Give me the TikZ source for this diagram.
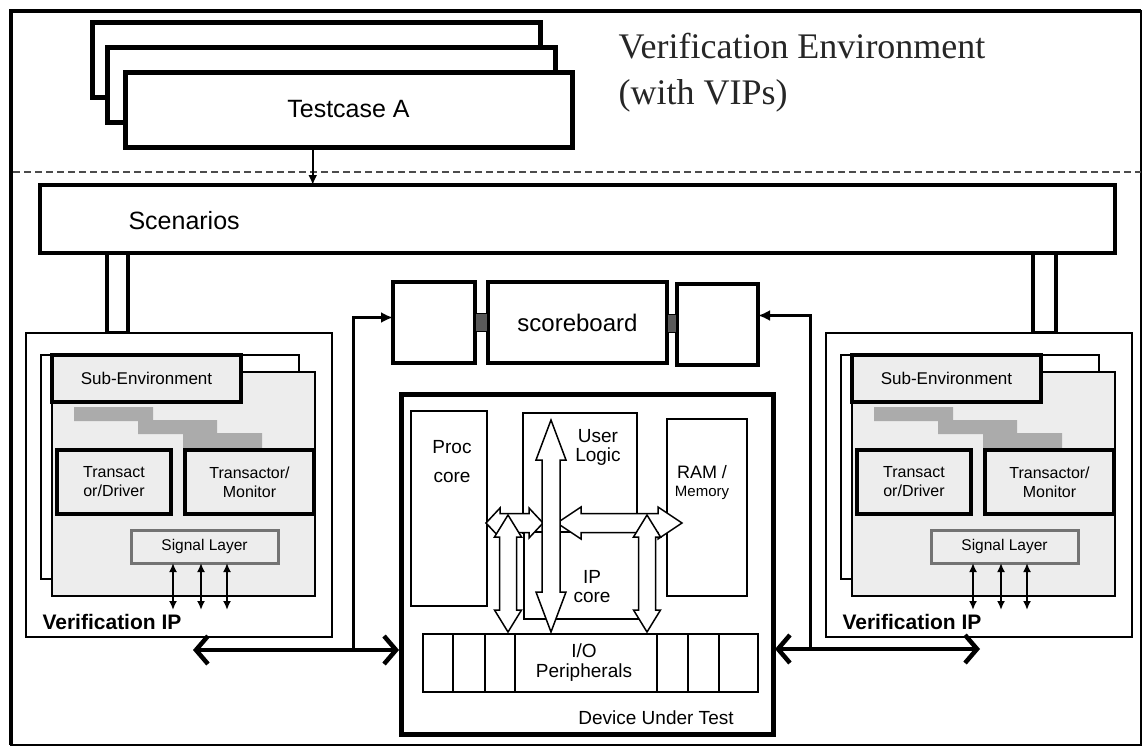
\documentclass[tikz,border=0pt]{standalone}
\usepackage{fontspec}
\setmainfont{Liberation Sans}
\newfontfamily\titlefont{Liberation Serif}
\usetikzlibrary{arrows.meta,calc}

% hollow block arrows: x1, x2, y, shaft half, head half, head length
\newcommand{\harrow}[6]{%
  \draw[hollow] (#1,#3) -- (#1+#6,#3-#5) -- (#1+#6,#3-#4) -- (#2-#6,#3-#4)
    -- (#2-#6,#3-#5) -- (#2,#3) -- (#2-#6,#3+#5) -- (#2-#6,#3+#4)
    -- (#1+#6,#3+#4) -- (#1+#6,#3+#5) -- cycle;}
% x, y1, y2, shaft half, head half, head length
\newcommand{\varrow}[6]{%
  \draw[hollow] (#1,#2) -- (#1+#5,#2+#6) -- (#1+#4,#2+#6) -- (#1+#4,#3-#6)
    -- (#1+#5,#3-#6) -- (#1,#3) -- (#1-#5,#3-#6) -- (#1-#4,#3-#6)
    -- (#1-#4,#2+#6) -- (#1-#5,#2+#6) -- cycle;}

\begin{document}
\begin{tikzpicture}[x=1pt,y=-1pt,
  box/.style={draw, fill=white, inner sep=0pt, outer sep=0pt},
  sz/.style 2 args={minimum width=#1, minimum height=#2},
  thickbox/.style={box, line width=4.5pt},
  thinbox/.style={box, line width=1.5pt},
  hollow/.style={draw, fill=white, line width=1.5pt, line join=miter},
  bus/.style={line width=4.5pt, shorten >=2pt,
    {Straight Barb[length=12pt,width=28pt]}-{Straight Barb[length=12pt,width=28pt]}},
  link/.style={line width=3pt, -{Latex[length=12pt,width=11pt]}},
  sigarr/.style={line width=2pt, {Latex[length=9pt,width=8pt]}-{Latex[length=9pt,width=8pt]}},
]
  \useasboundingbox (0,0) rectangle (1143,747);
  \draw[line width=2pt] (11,11) rectangle (1141,745);
  \draw[line width=4pt] (11,745) -- (11,11) -- (1141,11);
  \draw[dash pattern=on 7pt off 4pt, line width=1.2pt, black!70] (13,172) -- (1141,172);

  % testcases
  \node[box, line width=5pt, sz={448}{75}] (tc3) at (316,60) {};
  \node[box, line width=5pt, sz={448}{75}] (tc2) at (331,85) {};
  \node[box, line width=5pt, sz={447}{75}, font=\fontsize{25}{25}\selectfont] (tcA) at (348.5,109.5) {Testcase A};
  \node[anchor=west, align=left, black!85, font=\titlefont\fontsize{36}{46}\selectfont] (title) at (615,73)
    {Verification Environment\\(with VIPs)};

  % scenarios
  \node[box, line width=4pt, sz={21}{80}] (pipeL) at (117.5,293) {};
  \node[box, line width=4pt, sz={23}{80}] (pipeR) at (1044.5,293) {};
  \node[box, line width=4pt, sz={1075}{68}] (scen) at (577.5,219) {};
  \node[anchor=west, font=\fontsize{25}{25}\selectfont] (scentxt) at (125,221) {Scenarios};
  \coordinate (tcout) at ($(tcA.south west)!0.42!(tcA.south east)$);
  \draw[line width=2pt, -{Latex[length=10pt,width=9pt]}] (tcout) -- (tcout |- scen.north);

  % verification IPs
  \foreach \dx/\s in {0/L,800/R}{
    \begin{scope}[xshift=\dx]
      \node[box, line width=1.5pt, sz={306}{304}] (vip\s) at (179,485) {};
      \node[box, line width=1.5pt, sz={258}{224}] (back\s) at (170,467) {};
      \node[box, line width=1.5pt, fill=black!7, sz={263}{224}] (sheet\s) at (183.5,484) {};
      \node[box, line width=3.5pt, fill=black!7, sz={189}{47}, font=\fontsize{17}{17}\selectfont] (sub\s) at (146.5,378.5) {Sub-Environment};
      \fill[black!33] (74,407) rectangle (153,421) (138,420) rectangle (217,434) (183,433) rectangle (262,448);
      \node[box, line width=3.5pt, fill=black!7, sz={114}{64}, align=center, font=\fontsize{16}{19}\selectfont] (drv\s) at (114,482) {Transact\\or/Driver};
      \node[box, line width=3.5pt, fill=black!7, sz={129}{64}, align=center, font=\fontsize{16}{19}\selectfont] (mon\s) at (249.5,482) {Transactor/\\Monitor};
      \node[box, draw=black!55, line width=3pt, fill=black!7, sz={147}{33}, font=\fontsize{15.5}{16}\selectfont] (sigl\s) at (204.5,546.5) {Signal Layer};
      \foreach \px in {-31.5,-3.5,22.5}
        \draw[sigarr] ([xshift=\px pt]sigl\s.south) -- ++(0,47);
      \node[anchor=west, font=\bfseries\fontsize{21}{21}\selectfont] (viptxt\s) at (39,622) {Verification IP};
    \end{scope}
  }

  % scoreboard
  \node[thickbox, sz={82}{81}] (sbL) at (434,322.5) {};
  \node[thickbox, sz={179}{81}, font=\fontsize{24}{24}\selectfont] (sb) at (577.5,322.5) {scoreboard};
  \node[thickbox, sz={81}{81}] (sbR) at (717.5,324.5) {};
  \node[box, line width=1.5pt, fill=black!65, sz={13}{18}] (portL) at ($(sbL.east)!0.5!(sb.west)$) {};
  \node[box, line width=1.5pt, fill=black!65, sz={10}{18}] (portR) at ($(sb.east)!0.5!(sbR.west)$) {};

  % device under test
  \node[box, line width=5pt, sz={372}{340}] (dut) at (587,564) {};
  \node[thinbox, sz={76}{195}] (proc) at (449,508.5) {};
  \node[thinbox, sz={114}{120}] (ulog) at (580,473) {};
  \node[thinbox, sz={115}{87}] (ipc) at (581.5,575.5) {};
  \node[thinbox, sz={80}{177}] (ram) at (707,507.5) {};
  \node[thinbox, sz={335}{58}] (io) at (590.5,663) {};
  \foreach \vx in {453,485,515,657,688,719}
    \draw[line width=1.5pt] (\vx,634) -- (\vx,692);
  \harrow{486}{543}{523}{9.5}{15}{14}
  \harrow{557}{682}{523}{9.5}{16}{24}
  \varrow{508}{515}{632}{8.5}{13.5}{22}
  \varrow{647}{515}{632}{8.5}{13.5}{22}
  \varrow{551}{420}{632}{9}{15}{40}
  \node[align=center, font=\fontsize{19}{29}\selectfont] (proctxt) at (452,462) {Proc\\core};
  \node[align=center, font=\fontsize{19}{19}\selectfont] (ulogtxt) at (598,447) {User\\Logic};
  \node[inner sep=1pt, font=\fontsize{18}{18}\selectfont] (ramtxt) at (702,472) {RAM /};
  \node[inner sep=1pt, font=\fontsize{15}{15}\selectfont] (memtxt) at (702,493) {Memory};
  \node[align=center, font=\fontsize{19}{19}\selectfont] (ipctxt) at (592,587) {IP\\core};
  \node[align=center, font=\fontsize{19}{20}\selectfont] (iotxt) at (584,663) {I/O\\Peripherals};
  \node[font=\fontsize{19}{19}\selectfont] (duttxt) at (656,718) {Device Under Test};

  % links to the DUT and scoreboard
  \coordinate (busL) at (193,650);
  \draw[bus] (busL) -- (busL -| dut.west);
  \coordinate (jL) at (353,650);
  \draw[link] (jL) |- ([yshift=5pt]sbL.west);
  \coordinate (busR) at (980,649);
  \draw[bus] (busR) -- (busR -| dut.east);
  \coordinate (jR) at (810,649);
  \draw[link] (jR) |- ([yshift=9pt]sbR.east);
\end{tikzpicture}
\end{document}
